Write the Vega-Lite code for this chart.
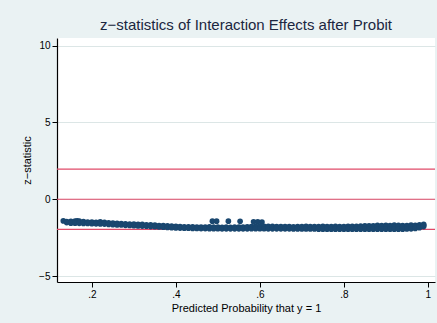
{
  "$schema": "https://vega.github.io/schema/vega-lite/v6.json",
  "autosize": {"type": "none"},
  "width": 378,
  "height": 244,
  "padding": {"left": 57, "top": 38, "right": 2, "bottom": 41},
  "background": "#EAF2F3",
  "config": {
    "view": {"fill": "#FFFFFF", "stroke": null},
    "font": "Liberation Sans",
    "axis": {
      "labelFont": "Liberation Sans", "titleFont": "Liberation Sans",
      "labelFontSize": 10, "titleFontSize": 11, "titleFontWeight": "normal",
      "labelColor": "#000000", "titleColor": "#000000",
      "domainColor": "#000000", "domainWidth": 1.2,
      "tickColor": "#000000", "tickSize": 5, "tickWidth": 1
    }
  },
  "title": {
    "text": "z−statistics of Interaction Effects after Probit",
    "fontSize": 15, "fontWeight": "normal", "color": "#1a2640",
    "font": "Liberation Sans", "anchor": "middle", "offset": 5
  },
  "layer": [
    {
      "data": {"values": [{"ref": 1.96}, {"ref": 0}, {"ref": -1.96}]},
      "mark": {"type": "rule", "color": "#E04A68", "strokeWidth": 1.1},
      "encoding": {"y": {"field": "ref", "type": "quantitative"}}
    },
    {
      "data": {"values": [
        {"p":0.132,"z":-1.41},{"p":0.165,"z":-1.40},{"p":0.487,"z":-1.43},{"p":0.497,"z":-1.43},{"p":0.525,"z":-1.43},{"p":0.553,"z":-1.44},{"p":0.585,"z":-1.47},{"p":0.595,"z":-1.47},{"p":0.605,"z":-1.48},
        {"p":0.14,"z":-1.46},{"p":0.14,"z":-1.49},{"p":0.14,"z":-1.52},
        {"p":0.15,"z":-1.44},{"p":0.15,"z":-1.50},{"p":0.15,"z":-1.56},
        {"p":0.16,"z":-1.42},{"p":0.16,"z":-1.49},{"p":0.16,"z":-1.56},
        {"p":0.17,"z":-1.42},{"p":0.17,"z":-1.50},{"p":0.17,"z":-1.57},
        {"p":0.18,"z":-1.46},{"p":0.18,"z":-1.52},{"p":0.18,"z":-1.58},
        {"p":0.19,"z":-1.48},{"p":0.19,"z":-1.53},{"p":0.19,"z":-1.58},
        {"p":0.20,"z":-1.49},{"p":0.20,"z":-1.54},{"p":0.20,"z":-1.59},
        {"p":0.21,"z":-1.50},{"p":0.21,"z":-1.55},{"p":0.21,"z":-1.60},
        {"p":0.22,"z":-1.47},{"p":0.22,"z":-1.54},{"p":0.22,"z":-1.61},
        {"p":0.23,"z":-1.51},{"p":0.23,"z":-1.56},{"p":0.23,"z":-1.62},
        {"p":0.24,"z":-1.53},{"p":0.24,"z":-1.58},{"p":0.24,"z":-1.64},
        {"p":0.25,"z":-1.55},{"p":0.25,"z":-1.60},{"p":0.25,"z":-1.66},
        {"p":0.26,"z":-1.57},{"p":0.26,"z":-1.62},{"p":0.26,"z":-1.67},
        {"p":0.27,"z":-1.58},{"p":0.27,"z":-1.63},{"p":0.27,"z":-1.68},
        {"p":0.28,"z":-1.60},{"p":0.28,"z":-1.65},{"p":0.28,"z":-1.70},
        {"p":0.29,"z":-1.61},{"p":0.29,"z":-1.66},{"p":0.29,"z":-1.71},
        {"p":0.30,"z":-1.62},{"p":0.30,"z":-1.67},{"p":0.30,"z":-1.72},
        {"p":0.31,"z":-1.63},{"p":0.31,"z":-1.68},{"p":0.31,"z":-1.74},
        {"p":0.32,"z":-1.64},{"p":0.32,"z":-1.70},{"p":0.32,"z":-1.75},
        {"p":0.33,"z":-1.66},{"p":0.33,"z":-1.71},{"p":0.33,"z":-1.76},
        {"p":0.34,"z":-1.67},{"p":0.34,"z":-1.72},{"p":0.34,"z":-1.78},
        {"p":0.35,"z":-1.69},{"p":0.35,"z":-1.74},{"p":0.35,"z":-1.79},
        {"p":0.36,"z":-1.71},{"p":0.36,"z":-1.76},{"p":0.36,"z":-1.81},
        {"p":0.37,"z":-1.72},{"p":0.37,"z":-1.77},{"p":0.37,"z":-1.82},
        {"p":0.38,"z":-1.74},{"p":0.38,"z":-1.79},{"p":0.38,"z":-1.84},
        {"p":0.39,"z":-1.75},{"p":0.39,"z":-1.80},{"p":0.39,"z":-1.86},
        {"p":0.40,"z":-1.77},{"p":0.40,"z":-1.82},{"p":0.40,"z":-1.87},
        {"p":0.41,"z":-1.78},{"p":0.41,"z":-1.83},{"p":0.41,"z":-1.88},
        {"p":0.42,"z":-1.79},{"p":0.42,"z":-1.84},{"p":0.42,"z":-1.89},
        {"p":0.43,"z":-1.80},{"p":0.43,"z":-1.85},{"p":0.43,"z":-1.89},
        {"p":0.44,"z":-1.80},{"p":0.44,"z":-1.85},{"p":0.44,"z":-1.90},
        {"p":0.45,"z":-1.81},{"p":0.45,"z":-1.86},{"p":0.45,"z":-1.90},
        {"p":0.46,"z":-1.81},{"p":0.46,"z":-1.86},{"p":0.46,"z":-1.91},
        {"p":0.47,"z":-1.82},{"p":0.47,"z":-1.87},{"p":0.47,"z":-1.91},
        {"p":0.48,"z":-1.80},{"p":0.48,"z":-1.86},{"p":0.48,"z":-1.92},
        {"p":0.49,"z":-1.82},{"p":0.49,"z":-1.87},{"p":0.49,"z":-1.92},
        {"p":0.50,"z":-1.82},{"p":0.50,"z":-1.87},{"p":0.50,"z":-1.92},
        {"p":0.51,"z":-1.83},{"p":0.51,"z":-1.88},{"p":0.51,"z":-1.93},
        {"p":0.52,"z":-1.82},{"p":0.52,"z":-1.88},{"p":0.52,"z":-1.93},
        {"p":0.53,"z":-1.83},{"p":0.53,"z":-1.88},{"p":0.53,"z":-1.93},
        {"p":0.54,"z":-1.82},{"p":0.54,"z":-1.88},{"p":0.54,"z":-1.93},
        {"p":0.55,"z":-1.82},{"p":0.55,"z":-1.87},{"p":0.55,"z":-1.93},
        {"p":0.56,"z":-1.81},{"p":0.56,"z":-1.87},{"p":0.56,"z":-1.93},
        {"p":0.57,"z":-1.80},{"p":0.57,"z":-1.86},{"p":0.57,"z":-1.93},
        {"p":0.58,"z":-1.78},{"p":0.58,"z":-1.85},{"p":0.58,"z":-1.92},
        {"p":0.59,"z":-1.77},{"p":0.59,"z":-1.84},{"p":0.59,"z":-1.92},
        {"p":0.60,"z":-1.76},{"p":0.60,"z":-1.84},{"p":0.60,"z":-1.92},
        {"p":0.61,"z":-1.76},{"p":0.61,"z":-1.84},{"p":0.61,"z":-1.92},
        {"p":0.62,"z":-1.77},{"p":0.62,"z":-1.85},{"p":0.62,"z":-1.93},
        {"p":0.63,"z":-1.77},{"p":0.63,"z":-1.85},{"p":0.63,"z":-1.93},
        {"p":0.64,"z":-1.78},{"p":0.64,"z":-1.85},{"p":0.64,"z":-1.93},
        {"p":0.65,"z":-1.78},{"p":0.65,"z":-1.85},{"p":0.65,"z":-1.93},
        {"p":0.66,"z":-1.78},{"p":0.66,"z":-1.85},{"p":0.66,"z":-1.93},
        {"p":0.67,"z":-1.78},{"p":0.67,"z":-1.85},{"p":0.67,"z":-1.93},
        {"p":0.68,"z":-1.79},{"p":0.68,"z":-1.86},{"p":0.68,"z":-1.94},
        {"p":0.69,"z":-1.78},{"p":0.69,"z":-1.86},{"p":0.69,"z":-1.94},
        {"p":0.70,"z":-1.78},{"p":0.70,"z":-1.86},{"p":0.70,"z":-1.94},
        {"p":0.71,"z":-1.77},{"p":0.71,"z":-1.85},{"p":0.71,"z":-1.94},
        {"p":0.72,"z":-1.78},{"p":0.72,"z":-1.86},{"p":0.72,"z":-1.94},
        {"p":0.73,"z":-1.78},{"p":0.73,"z":-1.86},{"p":0.73,"z":-1.94},
        {"p":0.74,"z":-1.78},{"p":0.74,"z":-1.86},{"p":0.74,"z":-1.95},
        {"p":0.75,"z":-1.77},{"p":0.75,"z":-1.86},{"p":0.75,"z":-1.95},
        {"p":0.76,"z":-1.78},{"p":0.76,"z":-1.86},{"p":0.76,"z":-1.95},
        {"p":0.77,"z":-1.78},{"p":0.77,"z":-1.86},{"p":0.77,"z":-1.95},
        {"p":0.78,"z":-1.77},{"p":0.78,"z":-1.86},{"p":0.78,"z":-1.95},
        {"p":0.79,"z":-1.78},{"p":0.79,"z":-1.86},{"p":0.79,"z":-1.95},
        {"p":0.80,"z":-1.78},{"p":0.80,"z":-1.86},{"p":0.80,"z":-1.95},
        {"p":0.81,"z":-1.77},{"p":0.81,"z":-1.86},{"p":0.81,"z":-1.95},
        {"p":0.82,"z":-1.76},{"p":0.82,"z":-1.85},{"p":0.82,"z":-1.95},
        {"p":0.83,"z":-1.77},{"p":0.83,"z":-1.86},{"p":0.83,"z":-1.95},
        {"p":0.84,"z":-1.75},{"p":0.84,"z":-1.85},{"p":0.84,"z":-1.95},
        {"p":0.85,"z":-1.74},{"p":0.85,"z":-1.84},{"p":0.85,"z":-1.95},
        {"p":0.86,"z":-1.73},{"p":0.86,"z":-1.84},{"p":0.86,"z":-1.95},
        {"p":0.87,"z":-1.74},{"p":0.87,"z":-1.84},{"p":0.87,"z":-1.95},
        {"p":0.88,"z":-1.70},{"p":0.88,"z":-1.82},{"p":0.88,"z":-1.95},
        {"p":0.89,"z":-1.72},{"p":0.89,"z":-1.83},{"p":0.89,"z":-1.95},
        {"p":0.90,"z":-1.70},{"p":0.90,"z":-1.82},{"p":0.90,"z":-1.95},
        {"p":0.91,"z":-1.72},{"p":0.91,"z":-1.83},{"p":0.91,"z":-1.95},
        {"p":0.92,"z":-1.69},{"p":0.92,"z":-1.82},{"p":0.92,"z":-1.95},
        {"p":0.93,"z":-1.70},{"p":0.93,"z":-1.82},{"p":0.93,"z":-1.95},
        {"p":0.94,"z":-1.71},{"p":0.94,"z":-1.83},{"p":0.94,"z":-1.95},
        {"p":0.95,"z":-1.72},{"p":0.95,"z":-1.83},{"p":0.95,"z":-1.94},
        {"p":0.96,"z":-1.68},{"p":0.96,"z":-1.80},{"p":0.96,"z":-1.93},
        {"p":0.97,"z":-1.70},{"p":0.97,"z":-1.80},{"p":0.97,"z":-1.90},
        {"p":0.98,"z":-1.66},{"p":0.98,"z":-1.76},{"p":0.98,"z":-1.85},
        {"p":0.99,"z":-1.63},{"p":0.99,"z":-1.70},{"p":0.99,"z":-1.78}
      ]},
      "mark": {"type": "circle", "size": 32, "opacity": 1, "color": "#1A476F"},
      "encoding": {
        "x": {
          "field": "p", "type": "quantitative",
          "scale": {"domain": [0.117, 1.017], "nice": false, "zero": false},
          "axis": {
            "values": [0.2, 0.4, 0.6, 0.8, 1.0],
            "labelExpr": "datum.value >= 0.999 ? '1' : slice(format(datum.value, '.1f'), 1)",
            "title": "Predicted Probability that y = 1",
            "grid": false, "labelPadding": 2, "titlePadding": 3
          }
        },
        "y": {
          "field": "z", "type": "quantitative",
          "scale": {"domain": [-5.39, 10.5], "nice": false, "zero": false},
          "axis": {
            "values": [-5, 0, 5, 10],
            "title": "z−statistic",
            "labelAngle": 0, "grid": true, "gridColor": "#DCE6E6", "gridWidth": 1,
            "labelPadding": 2, "titlePadding": 6
          }
        }
      }
    }
  ]
}
